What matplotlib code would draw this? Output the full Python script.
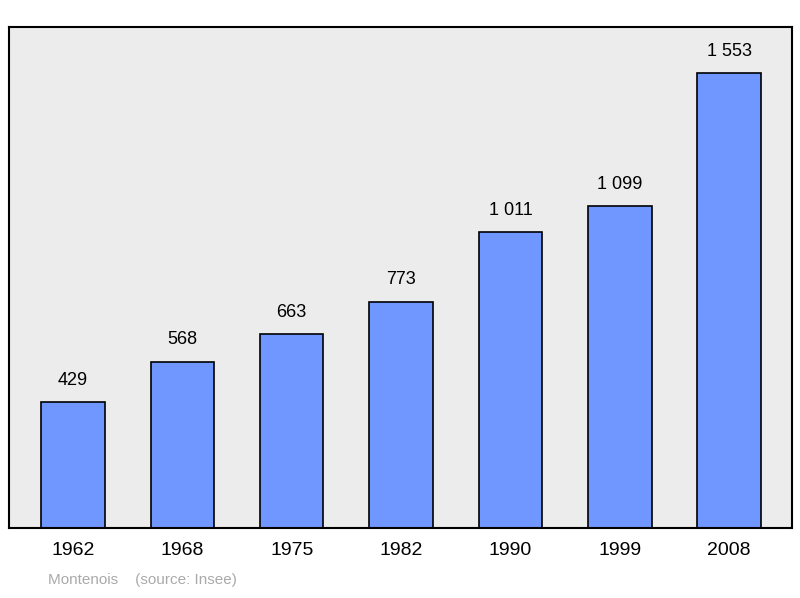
import matplotlib
matplotlib.use("Agg")
import matplotlib.pyplot as plt

years = ["1962", "1968", "1975", "1982", "1990", "1999", "2008"]
population = [429, 568, 663, 773, 1011, 1099, 1553]
labels = ["429", "568", "663", "773", "1 011", "1 099", "1 553"]

plt.rcParams["font.family"] = ["Liberation Sans", "DejaVu Sans"]
fig = plt.figure(figsize=(8, 5.98), dpi=100)
ax = fig.add_axes([0.01125, 0.117, 0.979, 0.838])
ax.set_facecolor("#ececec")
x = range(len(years))
ax.bar(x, population, width=0.58, color="#7096ff", edgecolor="black", linewidth=1.2, zorder=2)
for xi, v, lab in zip(x, population, labels):
    ax.text(xi, v + 45, lab, ha="center", va="bottom", fontsize=13)
ax.set_xlim(-0.585, 6.576)
ax.set_ylim(0, 1710)
ax.set_yticks([])
ax.set_xticks(list(x), years, fontsize=14)
ax.tick_params(axis="x", length=0, pad=10)
for s in ax.spines.values():
    s.set_linewidth(1.5)
fig.text(0.06, 0.023, "Montenois    (source: Insee)", color="#aaaaaa", fontsize=11)
fig.savefig("out.png", dpi=100)
